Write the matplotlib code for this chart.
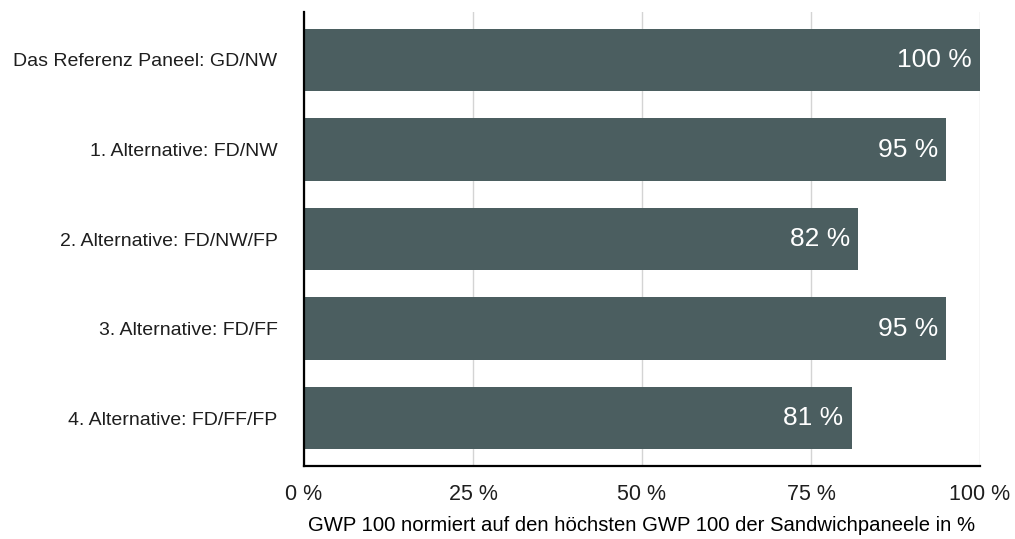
import matplotlib.pyplot as plt

plt.rcParams['font.family'] = ['Liberation Sans', 'DejaVu Sans']
plt.rcParams['text.color'] = '#1e1e1e'

# GWP 100 der Sandwichpaneele, normiert auf den höchsten Wert
labels = ['Das Referenz Paneel: GD/NW',
          '1. Alternative: FD/NW',
          '2. Alternative: FD/NW/FP',
          '3. Alternative: FD/FF',
          '4. Alternative: FD/FF/FP']
werte = [100, 95, 82, 95, 81]
xticks = [0, 25, 50, 75, 100]

fig = plt.figure(figsize=(10.15, 5.39), dpi=100)
ax = fig.add_axes([0.2995, 0.1354, 0.666, 0.8423])

pos = range(len(labels))
ax.barh(pos, werte, height=0.7, color='#4b5e60', zorder=2)
for y, v in zip(pos, werte):
    ax.text(v - 1.2, y, f'{v} %', ha='right', va='center',
            color='white', fontsize=19)

ax.set_xlim(0, 100)
ax.set_ylim(len(labels) - 0.464, -0.536)
ax.set_yticks(list(pos))
ax.set_yticklabels(labels, fontsize=14)
ax.set_xticks(xticks)
ax.set_xticklabels([f'{t} %' for t in xticks], fontsize=15.5)
ax.tick_params(length=0, colors='#1e1e1e')
ax.tick_params(axis='y', pad=19)
ax.tick_params(axis='x', pad=13)
ax.grid(axis='x', color='#d4d4d4', linewidth=1, zorder=0)

for s in ['top', 'right']:
    ax.spines[s].set_visible(False)
for s in ['left', 'bottom']:
    ax.spines[s].set_linewidth(1.6)
    ax.spines[s].set_color('black')

ax.set_xlabel('GWP 100 normiert auf den höchsten GWP 100 der Sandwichpaneele in %',
              fontsize=14.6, labelpad=8)

fig.savefig('out.png')
